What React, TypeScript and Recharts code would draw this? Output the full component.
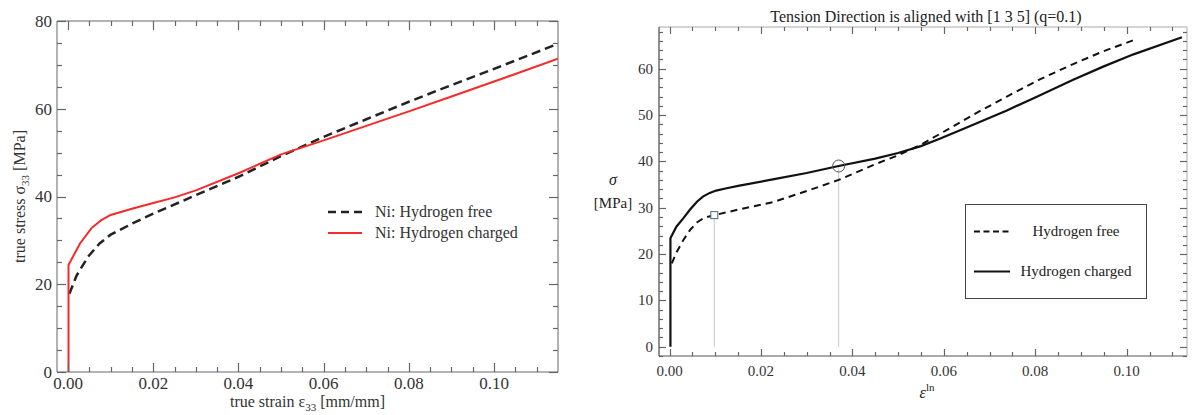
import React from "react";
import { LineChart, Line, XAxis, YAxis, ReferenceLine, ReferenceDot, Legend } from "recharts";

// left panel: Ni stress-strain
const leftFreeStrain = [0.0003, 0.002, 0.0047, 0.0074, 0.01, 0.015, 0.02, 0.03, 0.04, 0.05, 0.06, 0.07, 0.08, 0.09, 0.1, 0.115];
const leftFreeStress = [17.8, 22.0, 26.3, 29.3, 31.3, 33.8, 36.1, 40.3, 44.5, 49.2, 53.6, 57.6, 61.6, 65.4, 69.1, 74.8];
const leftChargedStrain = [0.0001, 0.0001, 0.0028, 0.0055, 0.0078, 0.01, 0.015, 0.02, 0.025, 0.03, 0.04, 0.05, 0.06, 0.07, 0.08, 0.09, 0.1, 0.115];
const leftChargedStress = [0, 24.4, 29.3, 32.8, 34.6, 35.8, 37.2, 38.5, 39.8, 41.4, 45.3, 49.6, 52.8, 56.1, 59.4, 62.8, 66.2, 71.4];

const leftXMajor = [0, 0.02, 0.04, 0.06, 0.08, 0.1];
const leftXMinor = [0, 0.005, 0.01, 0.015, 0.02, 0.025, 0.03, 0.035, 0.04, 0.045, 0.05, 0.055, 0.06, 0.065, 0.07, 0.075, 0.08, 0.085, 0.09, 0.095, 0.1, 0.105, 0.11];
const leftYMajor = [0, 20, 40, 60, 80];
const leftYMinor = [0, 5, 10, 15, 20, 25, 30, 35, 40, 45, 50, 55, 60, 65, 70, 75, 80];

// right panel: crystal plasticity, [1 3 5]
const rightFreeStrain = [0.0005, 0.0015, 0.003, 0.0045, 0.006, 0.0075, 0.0098, 0.0125, 0.015, 0.0226, 0.03, 0.037, 0.045, 0.05, 0.055, 0.0591, 0.0665, 0.0738, 0.081, 0.0883, 0.095, 0.1019];
const rightFreeStress = [18, 20.3, 23.0, 25.2, 26.8, 27.8, 28.4, 29.0, 29.6, 31.2, 33.6, 36.0, 39.4, 41.3, 43.6, 45.9, 50.1, 54.0, 57.7, 61.0, 63.8, 66.3];
const rightChargedStrain = [0.0002, 0.0002, 0.0015, 0.003, 0.0045, 0.006, 0.0073, 0.0088, 0.0102, 0.0125, 0.015, 0.0226, 0.03, 0.037, 0.045, 0.05, 0.055, 0.0591, 0.065, 0.0738, 0.08, 0.0883, 0.095, 0.1015, 0.1121];
const rightChargedStress = [0, 23.4, 25.9, 27.7, 29.6, 31.3, 32.4, 33.2, 33.7, 34.2, 34.7, 36.1, 37.5, 39.0, 40.6, 41.8, 43.3, 44.9, 47.3, 51.0, 53.8, 57.6, 60.5, 63.1, 66.8];

const rightXMajor = [0, 0.02, 0.04, 0.06, 0.08, 0.1];
const rightXMinor = [0, 0.005, 0.01, 0.015, 0.02, 0.025, 0.03, 0.035, 0.04, 0.045, 0.05, 0.055, 0.06, 0.065, 0.07, 0.075, 0.08, 0.085, 0.09, 0.095, 0.1, 0.105, 0.11];
const rightYMajor = [0, 10, 20, 30, 40, 50, 60];
const rightYMinor = [-2, 0, 2, 4, 6, 8, 10, 12, 14, 16, 18, 20, 22, 24, 26, 28, 30, 32, 34, 36, 38, 40, 42, 44, 46, 48, 50, 52, 54, 56, 58, 60, 62, 64, 66, 68];

const squareMark = { x: 0.0098, y: 28.4 };
const circleMark = { x: 0.037, y: 39.0 };

const toPoints = (xs: number[], ys: number[]) => xs.map((x, i) => ({ x, y: ys[i] }));

const SERIF = "Liberation Serif, DejaVu Serif, serif";

type TickCfg = {
  side: "bottom" | "top" | "left" | "right";
  majors: number[];
  major: number;
  minor: number;
  color: string;
  label?: boolean;
  fontSize?: number;
  gap?: number;
};

// inward tick marks (major + minor) with labels for the major ones
function makeTick(cfg: TickCfg) {
  return (props: any) => {
    const { x, y, payload } = props;
    const v = payload.value as number;
    const isMajor = cfg.majors.some((m) => Math.abs(m - v) < 1e-9);
    const len = isMajor ? cfg.major : cfg.minor;
    const px = Math.round(x) + 0.5;
    const py = Math.round(y) + 0.5;
    let d = "";
    if (cfg.side === "bottom") d = `M${px},${y}V${y - len}`;
    if (cfg.side === "top") d = `M${px},${y}V${y + len}`;
    if (cfg.side === "left") d = `M${x},${py}H${x + len}`;
    if (cfg.side === "right") d = `M${x},${py}H${x - len}`;
    const gap = cfg.gap ?? 4;
    const fs = cfg.fontSize ?? 16;
    let label = null;
    if (cfg.label && isMajor) {
      if (cfg.side === "bottom") {
        label = (
          <text x={x} y={y + gap + fs * 0.72} textAnchor="middle" fontSize={fs} fontFamily={SERIF} fill="#333">
            {v.toFixed(2)}
          </text>
        );
      } else {
        label = (
          <text x={x - gap} y={y + fs * 0.34} textAnchor="end" fontSize={fs} fontFamily={SERIF} fill="#333">
            {v}
          </text>
        );
      }
    }
    return (
      <g>
        <path d={d} stroke={cfg.color} strokeWidth={1.2} fill="none" />
        {label}
      </g>
    );
  };
}

const leftYLabel = (props: any) => {
  const vb = props.viewBox;
  const cx = vb.x + 25;
  const cy = vb.y + vb.height / 2;
  return (
    <text x={cx} y={cy} transform={`rotate(-90 ${cx} ${cy})`} textAnchor="middle" fontSize={16} fontFamily={SERIF} fill="#333">
      true stress σ<tspan dy={4} fontSize={11}>33</tspan>
      <tspan dy={-4}> [MPa]</tspan>
    </text>
  );
};

const leftXLabel = (props: any) => {
  const vb = props.viewBox;
  return (
    <text x={vb.x + vb.width / 2} y={407} textAnchor="middle" fontSize={16} fontFamily={SERIF} fill="#333">
      true strain ε<tspan dy={4} fontSize={11}>33</tspan>
      <tspan dy={-4}> [mm/mm]</tspan>
    </text>
  );
};

const rightYLabel = () => (
  <g fontFamily={SERIF} fill="#222">
    <text x={33} y={185} textAnchor="middle" fontSize={16} fontStyle="italic">σ</text>
    <text x={33} y={208} textAnchor="middle" fontSize={15}>[MPa]</text>
  </g>
);

const rightXLabel = () => (
  <text x={347} y={398} textAnchor="middle" fontFamily={SERIF} fill="#222" fontSize={16}>
    <tspan fontStyle="italic">ε</tspan>
    <tspan dy={-7} fontSize={11}>ln</tspan>
  </text>
);

const rightTitle = () => (
  <text x={346} y={22} textAnchor="middle" fontFamily={SERIF} fill="#222" fontSize={16}>
    Tension Direction is aligned with [1 3 5] (q=0.1)
  </text>
);

const leftLegend = () => (
  <svg width={220} height={50} style={{ display: "block" }}>
    <line x1={8} y1={14} x2={42} y2={14} stroke="#222" strokeWidth={2.5} strokeDasharray="8 5" />
    <text x={55} y={19} fontSize={16} fontFamily={SERIF} fill="#333">Ni: Hydrogen free</text>
    <line x1={8} y1={35} x2={42} y2={35} stroke="#f52a2a" strokeWidth={2} />
    <text x={55} y={40} fontSize={16} fontFamily={SERIF} fill="#333">Ni: Hydrogen charged</text>
  </svg>
);

const rightLegend = () => (
  <svg width={184} height={97} style={{ display: "block" }}>
    <rect x={0.5} y={0.5} width={181} height={94} fill="#fff" stroke="#444" strokeWidth={1} />
    <line x1={9} y1={27.5} x2={45} y2={27.5} stroke="#111" strokeWidth={2} strokeDasharray="6 3.5" />
    <text x={111} y={32} textAnchor="middle" fontSize={15} fontFamily={SERIF} fill="#222">Hydrogen free</text>
    <line x1={9} y1={67.5} x2={45} y2={67.5} stroke="#111" strokeWidth={2.2} />
    <text x={111} y={72} textAnchor="middle" fontSize={15} fontFamily={SERIF} fill="#222">Hydrogen charged</text>
  </svg>
);

const squareShape = (props: any) => (
  <rect x={props.cx - 3.5} y={props.cy - 3.5} width={7} height={7} fill="#fff" stroke="#4a6480" strokeWidth={1} />
);

function LeftChart() {
  const frame = "#666";
  const xDomain = [-0.0026, 0.115];
  return (
    <LineChart width={580} height={415} margin={{ top: 20, right: 21, bottom: 0, left: 0 }}>
      <XAxis
        xAxisId="b"
        type="number"
        dataKey="x"
        domain={xDomain}
        allowDataOverflow
        ticks={leftXMinor}
        interval={0}
        height={43}
        tickSize={0}
        tickMargin={0}
        tickLine={false}
        axisLine={{ stroke: frame }}
        tick={makeTick({ side: "bottom", majors: leftXMajor, major: 9, minor: 5, color: frame, label: true, fontSize: 17, gap: 5 })}
        label={{ content: leftXLabel }}
      />
      <XAxis
        xAxisId="t"
        orientation="top"
        type="number"
        dataKey="x"
        domain={xDomain}
        allowDataOverflow
        ticks={leftXMinor}
        interval={0}
        height={1}
        tickSize={0}
        tickMargin={0}
        tickLine={false}
        axisLine={{ stroke: frame }}
        tick={makeTick({ side: "top", majors: leftXMajor, major: 9, minor: 5, color: frame })}
      />
      <YAxis
        yAxisId="l"
        type="number"
        domain={[0, 80]}
        allowDataOverflow
        ticks={leftYMinor}
        interval={0}
        width={57}
        tickSize={0}
        tickMargin={0}
        tickLine={false}
        axisLine={{ stroke: frame }}
        tick={makeTick({ side: "left", majors: leftYMajor, major: 9, minor: 5, color: frame, label: true, fontSize: 17, gap: 5 })}
        label={{ content: leftYLabel }}
      />
      <YAxis
        yAxisId="r"
        orientation="right"
        type="number"
        domain={[0, 80]}
        allowDataOverflow
        ticks={leftYMinor}
        interval={0}
        width={1}
        tickSize={0}
        tickMargin={0}
        tickLine={false}
        axisLine={{ stroke: frame }}
        tick={makeTick({ side: "right", majors: leftYMajor, major: 9, minor: 5, color: frame })}
      />
      <Line
        xAxisId="b"
        yAxisId="l"
        data={toPoints(leftFreeStrain, leftFreeStress)}
        dataKey="y"
        name="Ni: Hydrogen free"
        type="linear"
        stroke="#222"
        strokeWidth={2.5}
        strokeDasharray="9 5"
        dot={false}
        isAnimationActive={false}
      />
      <Line
        xAxisId="b"
        yAxisId="l"
        data={toPoints(leftChargedStrain, leftChargedStress)}
        dataKey="y"
        name="Ni: Hydrogen charged"
        type="linear"
        stroke="#f52a2a"
        strokeWidth={2}
        dot={false}
        isAnimationActive={false}
      />
      <Legend
        layout="horizontal"
        verticalAlign="middle"
        align="center"
        content={leftLegend}
        wrapperStyle={{ position: "absolute", left: 320, top: 198, width: 220, height: 50 }}
      />
    </LineChart>
  );
}

function RightChart() {
  const tickC = "#666";
  const xDomain = [-0.0023, 0.1132];
  const yDomain = [-2, 69];
  return (
    <LineChart width={612} height={415} margin={{ top: 26, right: 4, bottom: 0, left: 0 }}>
      <XAxis
        xAxisId="b"
        type="number"
        dataKey="x"
        domain={xDomain}
        allowDataOverflow
        ticks={rightXMinor}
        interval={0}
        height={59}
        tickSize={0}
        tickMargin={0}
        tickLine={false}
        axisLine={{ stroke: "#555" }}
        tick={makeTick({ side: "bottom", majors: rightXMajor, major: 7, minor: 4, color: tickC, label: true, fontSize: 15, gap: 9 })}
        label={{ content: rightXLabel }}
      />
      <XAxis
        xAxisId="t"
        orientation="top"
        type="number"
        dataKey="x"
        domain={xDomain}
        allowDataOverflow
        ticks={rightXMinor}
        interval={0}
        height={1}
        tickSize={0}
        tickMargin={0}
        tickLine={false}
        axisLine={{ stroke: "#aaa" }}
        tick={makeTick({ side: "top", majors: rightXMajor, major: 7, minor: 4, color: tickC })}
        label={{ content: rightTitle }}
      />
      <YAxis
        yAxisId="l"
        type="number"
        domain={yDomain}
        allowDataOverflow
        ticks={rightYMinor}
        interval={0}
        width={79}
        tickSize={0}
        tickMargin={0}
        tickLine={false}
        axisLine={{ stroke: "#222" }}
        tick={makeTick({ side: "left", majors: rightYMajor, major: 7, minor: 4, color: tickC, label: true, fontSize: 15, gap: 6 })}
        label={{ content: rightYLabel }}
      />
      <YAxis
        yAxisId="r"
        orientation="right"
        type="number"
        domain={yDomain}
        allowDataOverflow
        ticks={rightYMinor}
        interval={0}
        width={1}
        tickSize={0}
        tickMargin={0}
        tickLine={false}
        axisLine={{ stroke: "#aaa" }}
        tick={makeTick({ side: "right", majors: rightYMajor, major: 7, minor: 4, color: tickC })}
      />
      <ReferenceLine
        xAxisId="b"
        yAxisId="l"
        segment={[{ x: squareMark.x, y: 0 }, { x: squareMark.x, y: squareMark.y }]}
        stroke="#c8c8c8"
        strokeWidth={1}
      />
      <ReferenceLine
        xAxisId="b"
        yAxisId="l"
        segment={[{ x: circleMark.x, y: 0 }, { x: circleMark.x, y: circleMark.y }]}
        stroke="#c8c8c8"
        strokeWidth={1}
      />
      <Line
        xAxisId="b"
        yAxisId="l"
        data={toPoints(rightFreeStrain, rightFreeStress)}
        dataKey="y"
        name="Hydrogen free"
        type="linear"
        stroke="#111"
        strokeWidth={2}
        strokeDasharray="7 5"
        dot={false}
        isAnimationActive={false}
      />
      <Line
        xAxisId="b"
        yAxisId="l"
        data={toPoints(rightChargedStrain, rightChargedStress)}
        dataKey="y"
        name="Hydrogen charged"
        type="linear"
        stroke="#111"
        strokeWidth={2.2}
        dot={false}
        isAnimationActive={false}
      />
      <ReferenceDot xAxisId="b" yAxisId="l" x={squareMark.x} y={squareMark.y} r={4} shape={squareShape} />
      <ReferenceDot xAxisId="b" yAxisId="l" x={circleMark.x} y={circleMark.y} r={6} fill="none" stroke="#555" strokeWidth={1} />
      <Legend
        layout="horizontal"
        verticalAlign="middle"
        align="center"
        content={rightLegend}
        wrapperStyle={{ position: "absolute", left: 385, top: 204, width: 184, height: 97 }}
      />
    </LineChart>
  );
}

export default function App() {
  return (
    <div style={{ position: "absolute", left: 0, top: 0, width: 1192, height: 415, background: "#fff" }}>
      <div style={{ position: "absolute", left: 0, top: 0 }}>
        <LeftChart />
      </div>
      <div style={{ position: "absolute", left: 580, top: 0 }}>
        <RightChart />
      </div>
    </div>
  );
}
